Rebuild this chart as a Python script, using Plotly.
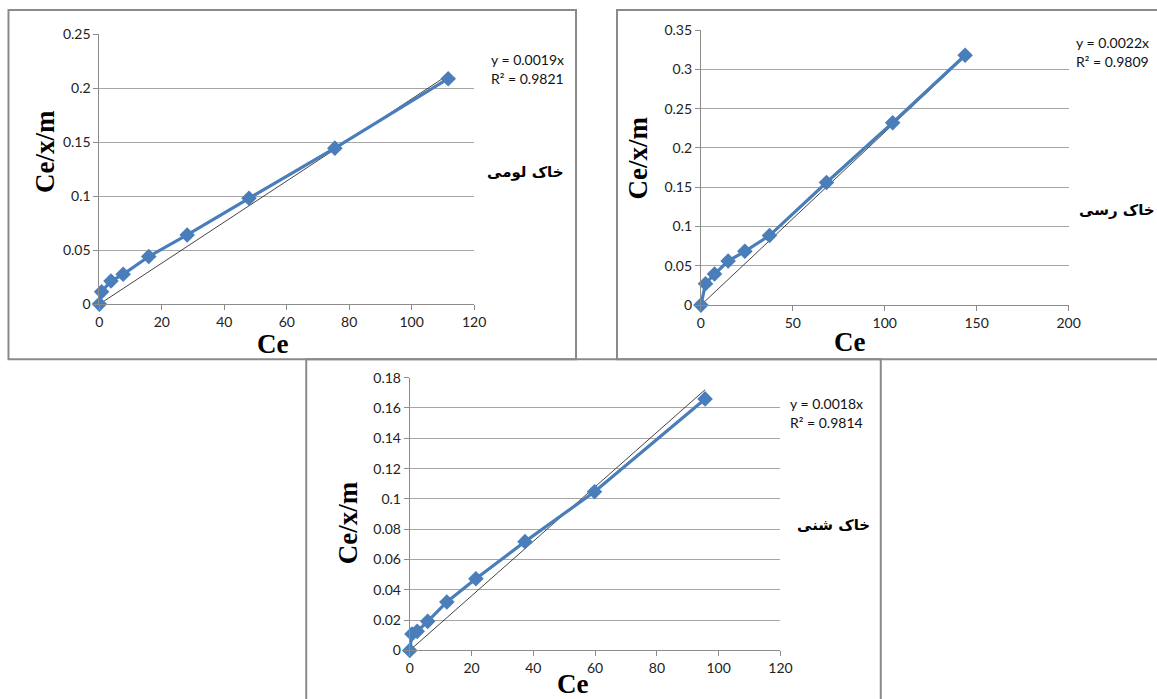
import plotly.graph_objects as go

W, H = 1157, 699

# ---------------- data ----------------
loam_ce = [0, 0.7, 3.7, 7.6, 15.8, 28.1, 47.9, 75.4, 111.7]
loam_q = [0, 0.0115, 0.0214, 0.0276, 0.0441, 0.064, 0.098, 0.1444, 0.2087]

clay_ce = [0, 2.5, 7.4, 14.8, 23.9, 37.3, 68.3, 104.3, 143.7]
clay_q = [0, 0.0272, 0.0396, 0.0561, 0.0685, 0.0885, 0.156, 0.232, 0.318]

sand_ce = [0, 0.7, 2.4, 5.8, 12.0, 21.4, 37.3, 59.8, 95.6]
sand_q = [0, 0.0108, 0.0126, 0.0192, 0.032, 0.0473, 0.0718, 0.1047, 0.166]

slopes = [0.0019, 0.0022, 0.0018]
r2_labels = ["R² = 0.9821", "R² = 0.9809", "R² = 0.9814"]
eq_labels = ["y = 0.0019x", "y = 0.0022x", "y = 0.0018x"]
soil_labels = ["خاک لومی", "خاک رسی", "خاک شنی"]

loam_xticks = [0, 20, 40, 60, 80, 100, 120]
loam_yticks = [0, 0.05, 0.1, 0.15, 0.2, 0.25]
clay_xticks = [0, 50, 100, 150, 200]
clay_yticks = [0, 0.05, 0.1, 0.15, 0.2, 0.25, 0.3, 0.35]
sand_xticks = [0, 20, 40, 60, 80, 100, 120]
sand_yticks = [0, 0.02, 0.04, 0.06, 0.08, 0.1, 0.12, 0.14, 0.16, 0.18]

x_title = "Ce"
y_title = "Ce/x/m"

# ---------------- layout helpers ----------------
# the captured picture is slightly shrunk/offset relative to the page; compensate
SX, OX = 0.987, 2.5
SY, OY = 0.972, 10.0


def px(x):
    return ((x - OX) / SX) / W


def py(y):
    return 1 - ((y - OY) / SY) / H


def fmt(v):
    return "%g" % v


BLUE = "#4A7EBB"
GRID = "#A6A6A6"
AXIS = "#8C8C8C"
TICKFONT = dict(family="Lato, Carlito, Arial", size=14, color="#222")
SMALLFONT = dict(family="Lato, Carlito, Arial", size=14, color="#111")

panels = [
    dict(ce=loam_ce, q=loam_q, xt=loam_xticks, yt=loam_yticks,
         area=(98, 473, 35, 304), frame=(7, 575, 10.5, 359),
         eq=(526, 60), r2=(526, 79), soil=(524, 172), yt_pos=(43, 152), xt_pos=(271, 344)),
    dict(ce=clay_ce, q=clay_q, xt=clay_xticks, yt=clay_yticks,
         area=(700, 1068, 31, 305), frame=(616, 1175, 10.5, 359),
         eq=(1112, 43), r2=(1112, 62), soil=(1116, 210), yt_pos=(637, 158), xt_pos=(849, 342)),
    dict(ce=sand_ce, q=sand_q, xt=sand_xticks, yt=sand_yticks,
         area=(408.6, 779.6, 377.3, 649), frame=(305, 880, 359, 720),
         eq=(826, 403), r2=(826, 422), soil=(833, 524), yt_pos=(347, 522), xt_pos=(571, 682)),
]

fig = go.Figure()
annotations = []
shapes = []


def note(text, pos, font, angle=0):
    return dict(text=text, x=px(pos[0]), y=py(pos[1]), xref="paper", yref="paper",
                xanchor="center", yanchor="middle", showarrow=False,
                textangle=angle, font=font)


for i, p in enumerate(panels, start=1):
    xa = "x" if i == 1 else f"x{i}"
    ya = "y" if i == 1 else f"y{i}"
    xkey = "xaxis" if i == 1 else f"xaxis{i}"
    ykey = "yaxis" if i == 1 else f"yaxis{i}"
    l, r, t, b = p["area"]

    # trend line (Excel linear trendline through origin)
    xmax = max(p["ce"])
    fig.add_trace(go.Scatter(
        x=[0, xmax], y=[0, slopes[i - 1] * xmax], mode="lines",
        line=dict(color="#303030", width=0.9), xaxis=xa, yaxis=ya,
        showlegend=False, hoverinfo="skip", cliponaxis=False))
    # data series
    fig.add_trace(go.Scatter(
        x=p["ce"], y=p["q"], mode="lines+markers",
        line=dict(color=BLUE, width=3.2),
        marker=dict(symbol="diamond", size=12, color=BLUE),
        xaxis=xa, yaxis=ya, showlegend=False, cliponaxis=False))

    fig.update_layout({
        xkey: dict(domain=[px(l), px(r)], range=[p["xt"][0], p["xt"][-1]],
                   tickvals=p["xt"], ticktext=[fmt(v) for v in p["xt"]],
                   showgrid=False, zeroline=False, showline=True,
                   linecolor=AXIS, linewidth=1, ticks="outside", ticklen=5,
                   tickcolor=AXIS, tickfont=TICKFONT, anchor=ya, fixedrange=True),
        ykey: dict(domain=[py(b), py(t)], range=[p["yt"][0], p["yt"][-1]],
                   tickvals=p["yt"], ticktext=[fmt(v) for v in p["yt"]],
                   showgrid=True, gridcolor=GRID, gridwidth=1, zeroline=False,
                   showline=True, linecolor=AXIS, linewidth=1, ticks="outside",
                   ticklen=5, tickcolor=AXIS, tickfont=TICKFONT, anchor=xa,
                   fixedrange=True),
    })

    fl, fr, ft, fb = p["frame"]
    shapes.append(dict(type="rect", xref="paper", yref="paper",
                       x0=max(px(fl), 1 / W), x1=px(fr),
                       y0=py(fb), y1=min(py(ft), 1 - 1 / H),
                       line=dict(color="#8A8A8A", width=2), layer="below"))

    annotations += [
        note(eq_labels[i - 1], p["eq"], SMALLFONT),
        note(r2_labels[i - 1], p["r2"], SMALLFONT),
        note("<b>" + soil_labels[i - 1] + "</b>", p["soil"],
             dict(family="DejaVu Sans, Noto Sans", size=15, color="#000")),
        note("<b>" + y_title + "</b>", p["yt_pos"],
             dict(family="Liberation Serif, Times New Roman", size=27, color="#000"), -90),
        note("<b>" + x_title + "</b>", p["xt_pos"],
             dict(family="Liberation Serif, Times New Roman", size=27, color="#000")),
    ]

fig.update_layout(
    width=W, height=H, margin=dict(l=0, r=0, t=0, b=0),
    paper_bgcolor="white", plot_bgcolor="white",
    shapes=shapes, annotations=annotations, showlegend=False,
)

PIN = (
    "document.documentElement.style.margin='0';"
    "document.documentElement.style.overflow='hidden';"
    "document.body.style.margin='0';"
    "document.body.style.overflow='hidden';"
)

fig.write_html("out.html", config={"displayModeBar": False}, post_script=PIN)
